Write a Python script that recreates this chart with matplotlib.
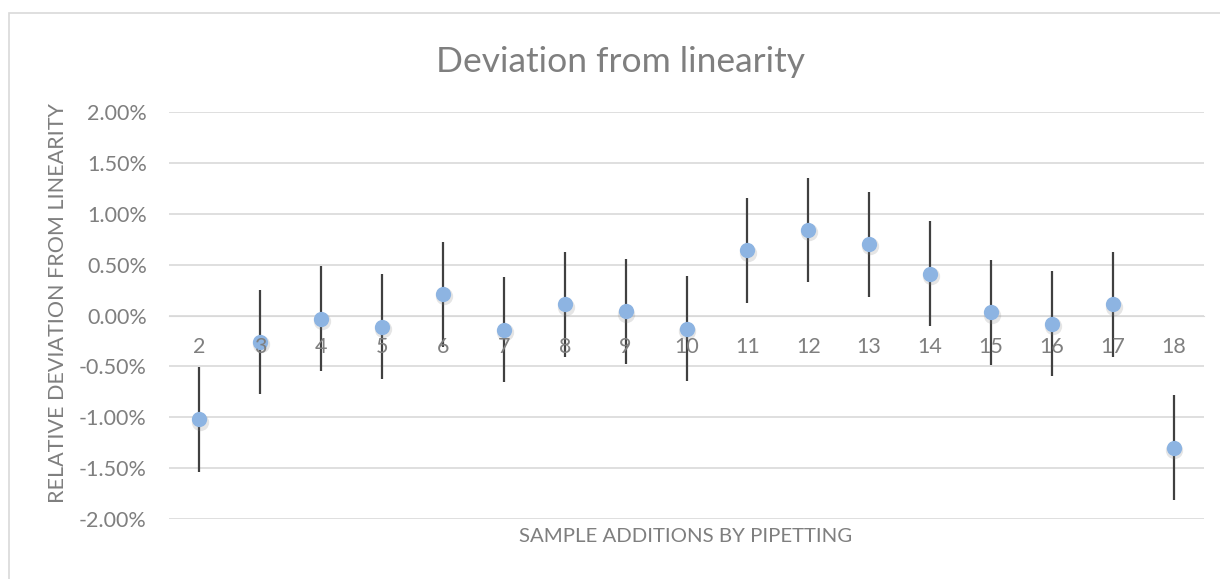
import numpy as np
import matplotlib
matplotlib.use("Agg")
import matplotlib.pyplot as plt
from matplotlib.patches import Rectangle
from matplotlib.ticker import PercentFormatter
import matplotlib.transforms as mtransforms

# sample additions and their relative deviation from the linear fit (fractions)
additions = [2, 3, 4, 5, 6, 7, 8, 9, 10, 11, 12, 13, 14, 15, 16, 17, 18]
deviation = [-0.0102, -0.0026, -0.0003, -0.0011, 0.0021, -0.0014, 0.0011, 0.0004,
             -0.0013, 0.0064, 0.0084, 0.0070, 0.0041, 0.0003, -0.0008, 0.0011, -0.0130]
error = [0.00515] * len(additions)
y_ticks = [-0.02, -0.015, -0.01, -0.005, 0.0, 0.005, 0.01, 0.015, 0.02]

TEXT_GREY = "#7F7F7F"
GRID_GREY = "#D9D9D9"
MARKER_BLUE = "#8DB4E2"

plt.rcParams["font.family"] = ["Lato", "DejaVu Sans"]
plt.rcParams["axes.unicode_minus"] = False

fig = plt.figure(figsize=(12.2, 5.79), dpi=100)
fig.patches.append(Rectangle((9 / 1220, -0.1), 1.2, 1 - 13 / 579 + 0.1,
                             transform=fig.transFigure, fill=False,
                             edgecolor=GRID_GREY, linewidth=1.2))

ax = fig.add_axes([169 / 1220, 1 - 519 / 579, (1204 - 169) / 1220, (519 - 112) / 579])

ax.errorbar(additions, deviation, yerr=error, fmt="none", ecolor="#404040",
            elinewidth=1.6, capsize=0, zorder=3)

# soft drop shadow under the markers
shadow = mtransforms.offset_copy(ax.transData, fig=fig, x=0.6, y=-1.6, units="points")
ax.plot(additions, deviation, "o", color="#808080", alpha=0.2, markersize=12.5,
        markeredgewidth=0, transform=shadow, zorder=4)
ax.plot(additions, deviation, "o", color=MARKER_BLUE, markersize=11,
        markeredgewidth=0, zorder=5)

ax.set_xlim(1.5, 18.5)
ax.set_ylim(-0.02, 0.02)
ax.set_yticks(y_ticks)
ax.yaxis.set_major_formatter(PercentFormatter(1.0, decimals=2))
ax.set_xticks(additions)
ax.set_xticklabels([str(a) for a in additions])

ax.grid(axis="y", color=GRID_GREY, linewidth=1.2)
ax.set_axisbelow(True)
# category labels sit on the zero line and are drawn over the markers, like Excel
ax.xaxis.set_zorder(6)
for side in ("left", "right", "top"):
    ax.spines[side].set_visible(False)
ax.spines["bottom"].set_position(("data", 0))
ax.spines["bottom"].set_color(GRID_GREY)
ax.spines["bottom"].set_zorder(1)
ax.tick_params(axis="both", length=0, labelsize=15.5, labelcolor=TEXT_GREY)
ax.tick_params(axis="y", pad=16)
ax.tick_params(axis="x", pad=15.5)

fig.text(621 / 1220, 1 - 62 / 579, "Deviation from linearity", ha="center",
         va="center", fontsize=25.5, color=TEXT_GREY)
fig.text(686 / 1220, 1 - 536 / 579, "SAMPLE ADDITIONS BY PIPETTING", ha="center",
         va="center", fontsize=14.7, color=TEXT_GREY)
fig.text(58 / 1220, 1 - 303 / 579, "RELATIVE DEVIATION FROM LINEARITY", ha="center",
         va="center", rotation=90, fontsize=15.5, color=TEXT_GREY)

fig.savefig("out.png", dpi=100, facecolor="white")
